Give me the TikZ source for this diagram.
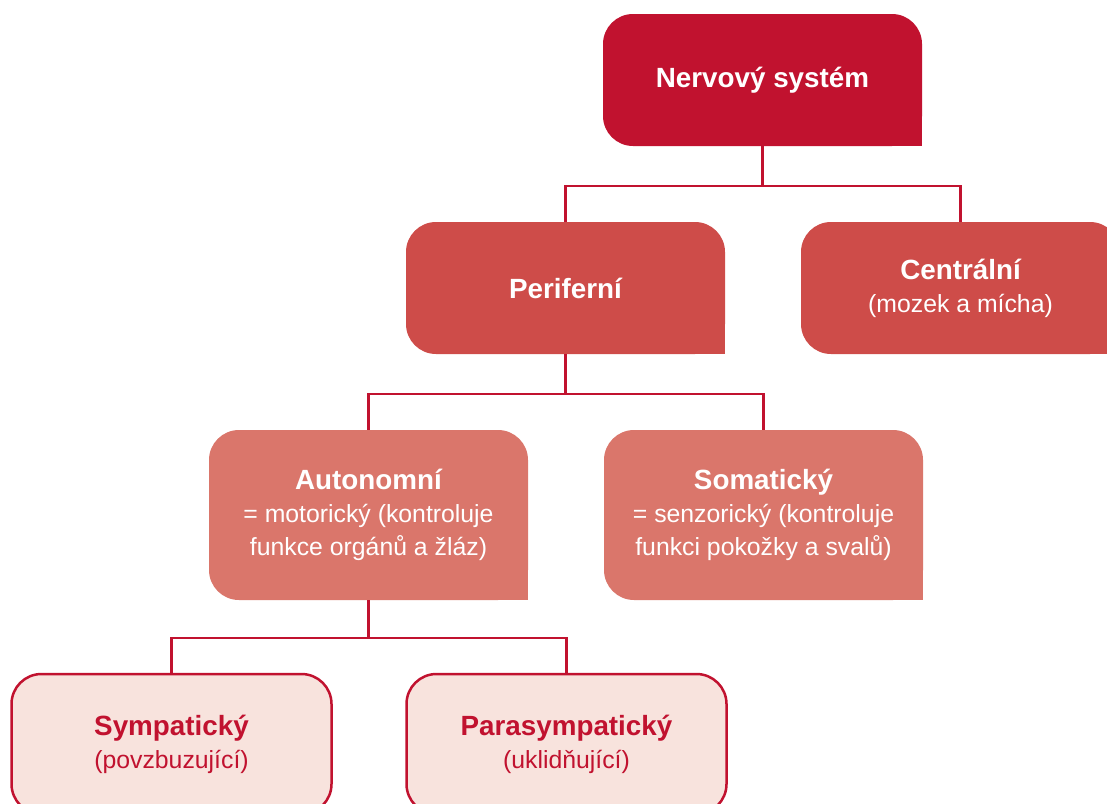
\documentclass[tikz,border=0pt]{standalone}
\usepackage{fontspec}
\setmainfont{Liberation Sans}
\usepackage{xcolor}
\usetikzlibrary{positioning}
\definecolor{nsred}{HTML}{C1122F}
\definecolor{perred}{HTML}{CE4C49}
\definecolor{autred}{HTML}{DA766B}
\definecolor{palered}{HTML}{F8E3DD}
\tikzset{
	box/.style={rounded corners=30pt, minimum width=319pt, inner sep=0pt, align=center, text=white, font=\fontsize{24.8}{33}\selectfont},
	topbox/.style={box, fill=nsred, minimum height=132pt},
	midbox/.style={box, fill=perred, minimum height=132pt},
	lowbox/.style={box, fill=autred, minimum height=170pt},
	leafbox/.style={box, draw=nsred, line width=2.5pt, fill=palered, text=nsred, minimum width=320pt, minimum height=140pt},
	conn/.style={draw=nsred, line width=2.5pt},
}
\newcommand{\hd}[1]{{\bfseries\fontsize{27.8}{34}\selectfont #1}}

\begin{document}
\begin{tikzpicture}[x=1pt, y=-1pt]
	\useasboundingbox (0,0) rectangle (1107,803);
	\clip (0,0) rectangle (1107,803);
	% boxes
	\node[topbox] (nervovy) at (762.5,80) {\hd{Nervový systém}};
	\node[midbox] (periferni) at (565.5,288) {\hd{Periferní}};
	\node[midbox] (centralni) at (960.5,288) {\hd{Centrální}\\(mozek a mícha)};
	\node[lowbox] (autonomni) at (368.5,515) {\hd{Autonomní}\\= motorický (kontroluje\\funkce orgánů a žláz)};
	\node[lowbox] (somaticky) at (763.5,515) {\hd{Somatický}\\= senzorický (kontroluje\\funkci pokožky a svalů)};
	\node[leafbox] (sympaticky) at (171.5,744) {\hd{Sympatický}\\(povzbuzující)};
	\node[leafbox] (parasympaticky) at (566.5,744) {\hd{Parasympatický}\\(uklidňující)};
	% square bottom right corners
	\foreach \n/\c in {nervovy/nsred, periferni/perred, centralni/perred, autonomni/autred, somaticky/autred}
		\fill[\c] (\n.south east) rectangle ++(-30,-30);
	% connectors
	\draw[conn] (nervovy.south) -- ++(0,40) -| (periferni.north);
	\draw[conn] (nervovy.south) -- ++(0,40) -| (centralni.north);
	\draw[conn] (periferni.south) -- ++(0,40) -| (autonomni.north);
	\draw[conn] (periferni.south) -- ++(0,40) -| (somaticky.north);
	\draw[conn] (autonomni.south) -- ++(0,38) -| (sympaticky.north);
	\draw[conn] (autonomni.south) -- ++(0,38) -| (parasympaticky.north);
\end{tikzpicture}
\end{document}
